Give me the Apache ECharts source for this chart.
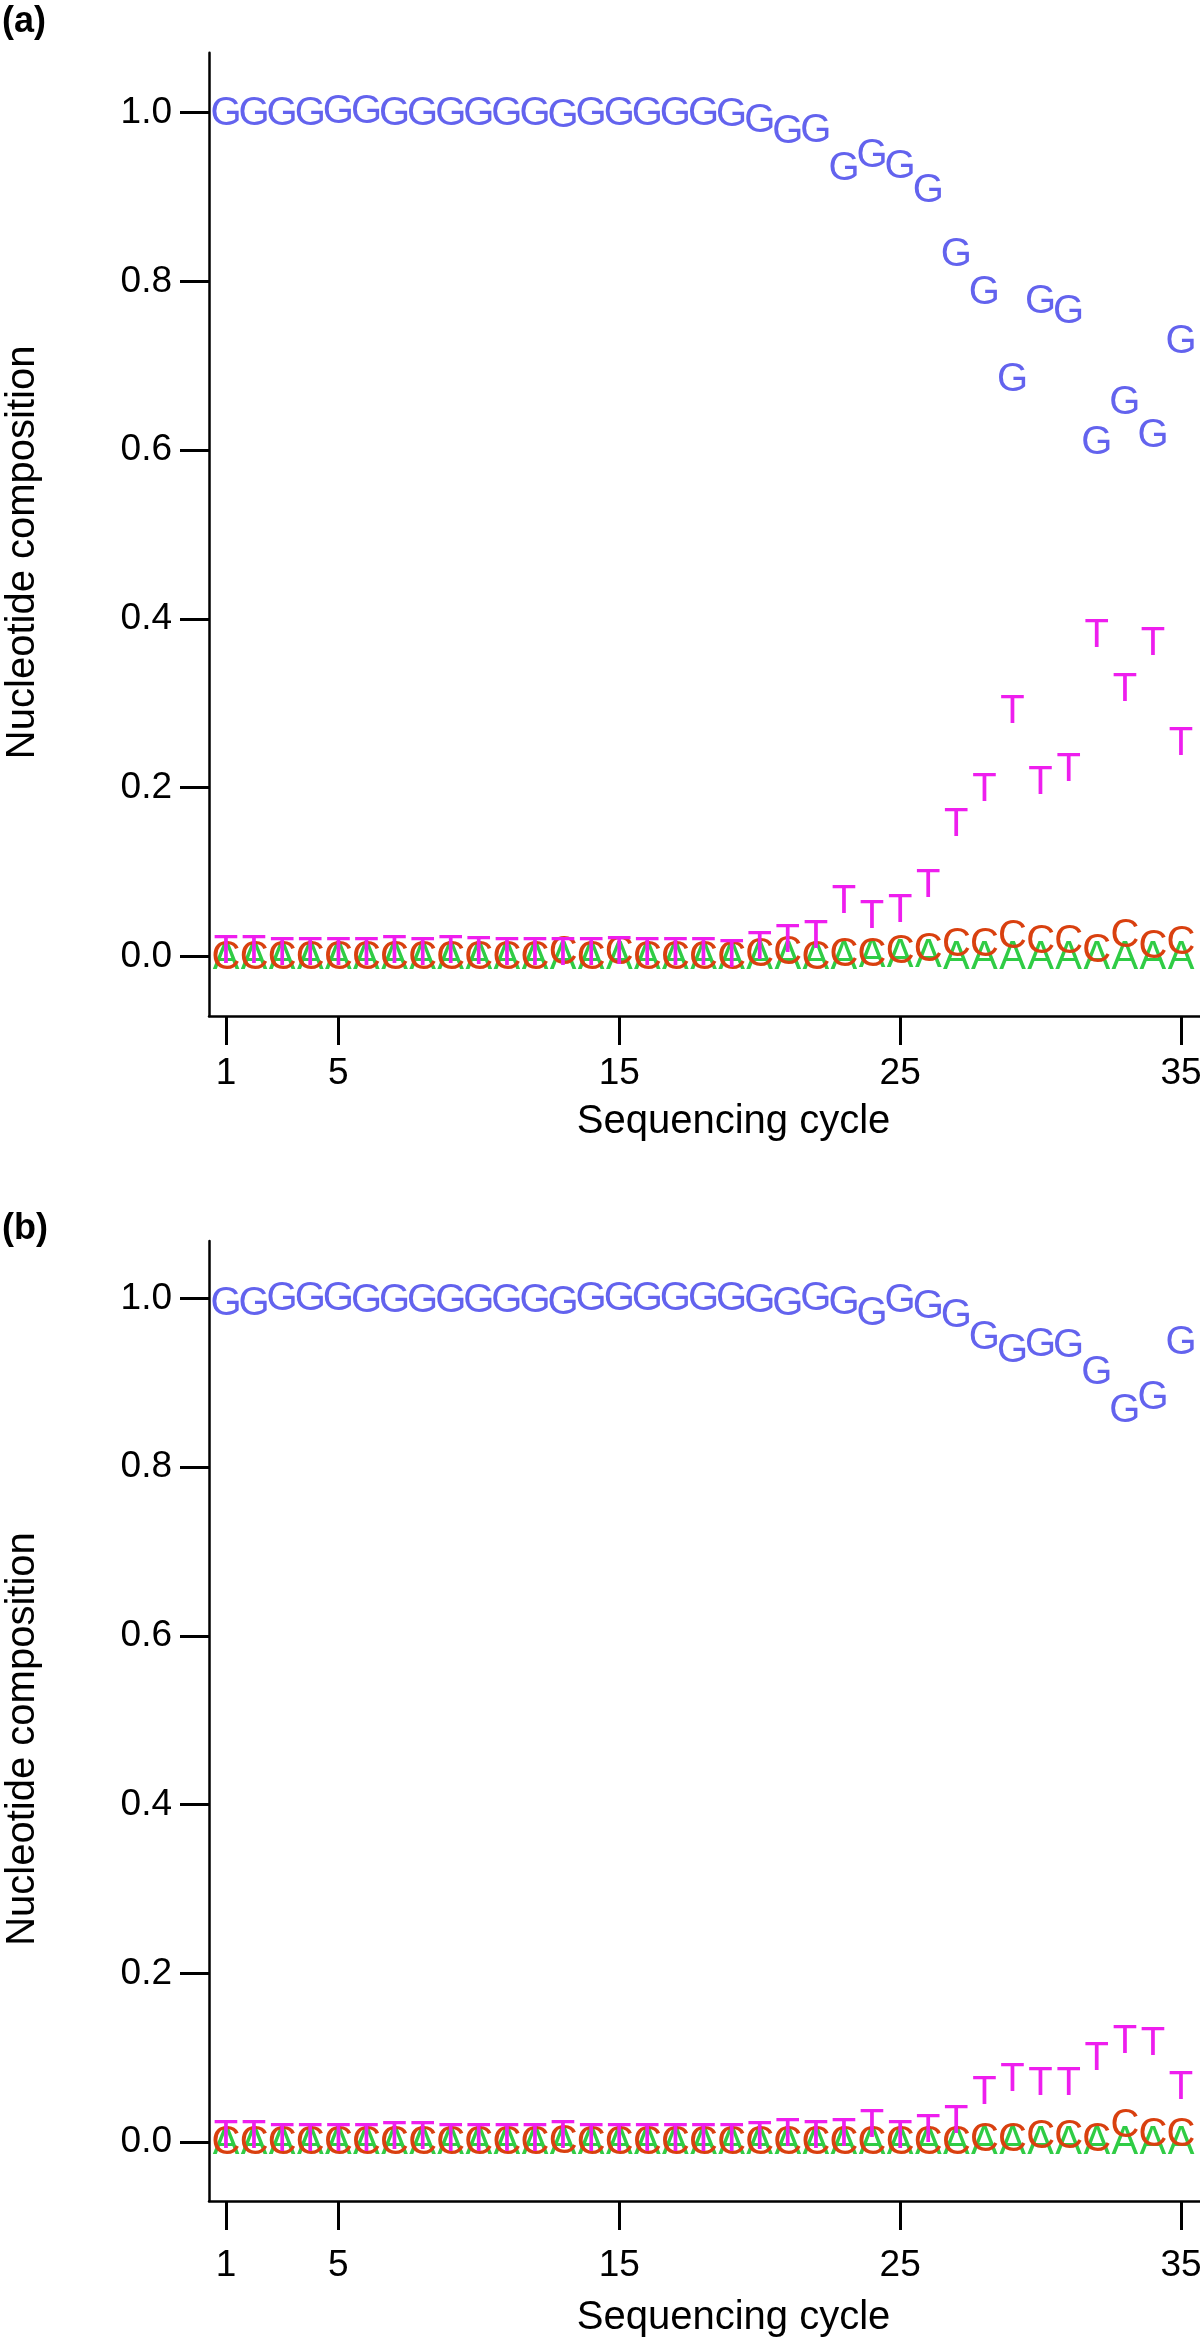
<!DOCTYPE html>
<html>
<head>
<meta charset="utf-8">
<script src="https://cdn.jsdelivr.net/npm/echarts@6/dist/echarts.min.js"></script>
<style>
html,body{margin:0;padding:0;background:#fff;}
#chart{width:1200px;height:2340px;}
</style>
</head>
<body>
<div id="chart"></div>
<script>
// ---- data ----
const cycles = [1,2,3,4,5,6,7,8,9,10,11,12,13,14,15,16,17,18,19,20,21,22,23,24,25,26,27,28,29,30,31,32,33,34,35];
const xTickValues = [1,5,15,25,35];
const yTickValues = [0,0.2,0.4,0.6,0.8,1.0];

// panel (a)
const G_a = [1.0,1.0,1.0,1.0,1.002,1.002,1.0,1.0,1.0,1.0,1.0,1.0,0.997,1.0,1.0,1.0,1.0,1.0,0.999,0.991,0.978,0.979,0.935,0.950,0.937,0.908,0.833,0.787,0.685,0.777,0.765,0.610,0.657,0.618,0.729];
const T_a = [0.006,0.006,0.004,0.004,0.004,0.004,0.006,0.004,0.006,0.005,0.004,0.004,0.004,0.004,0.005,0.004,0.004,0.004,0.002,0.011,0.020,0.024,0.066,0.048,0.055,0.085,0.157,0.199,0.291,0.207,0.222,0.381,0.317,0.371,0.253];
const C_a = [0,0,0,0,0,0,0,0,0,0,0,0,0.005,0,0.005,0,0,0,0,0.003,0.005,0,0.003,0.003,0.007,0.009,0.015,0.015,0.024,0.019,0.018,0.008,0.026,0.013,0.017];
const A_a = [0,0,0,0,0,0,0,0,0,0,0,0,0,0,0,0,0,0,0,0,0,0,0,0.002,0.002,0.002,0,0,0,0,0,0,0,0,0];

// panel (b)
const G_b = [0.995,0.995,1.0,1.0,1.0,0.998,0.998,0.998,0.998,0.998,0.998,0.998,0.996,1.0,1.0,1.0,1.0,1.0,1.0,0.998,0.994,1.0,0.996,0.983,0.998,0.991,0.980,0.954,0.939,0.946,0.945,0.913,0.868,0.883,0.948];
const T_b = [0.008,0.008,0.004,0.004,0.004,0.004,0.006,0.006,0.004,0.004,0.004,0.004,0.008,0.004,0.004,0.004,0.004,0.004,0.004,0.006,0.010,0.008,0.010,0.020,0.008,0.015,0.025,0.060,0.075,0.070,0.070,0.100,0.120,0.118,0.065];
const C_b = [0,0,0,0,0,0,0,0,0,0,0,0,0.002,0,0,0,0,0,0,0,0,0,0,0,0,0,0,0.004,0.004,0.008,0.008,0.004,0.020,0.010,0.010];
const A_b = [0,0,0,0,0,0,0,0,0,0,0,0,0,0,0,0,0,0,0,0,0,0,0,0,0,0,0,0,0,0,0,0,0,0,0];

const letters = {G:'#6363ee', A:'#2fcc45', C:'#d9400f', T:'#ee1eee'};
const FONT = '"Liberation Sans", Arial, Helvetica, sans-serif';

function pairs(vals){ return cycles.map((c,i)=>[c, vals[i]]); }

function letterSeries(letter, vals, idx){
  return {
    type:'custom',
    name: letter,
    xAxisIndex: idx, yAxisIndex: idx,
    clip:false,
    data: pairs(vals),
    renderItem: function(params, api){
      const p = api.coord([api.value(0), api.value(1)]);
      return {
        type:'text', x:p[0], y:p[1]+1,
        style:{text:letter, fill:letters[letter], font:'40px ' + FONT, align:'center', verticalAlign:'middle'}
      };
    }
  };
}

function makeX(idx, labelMargin, nameGap){
  return {
    gridIndex: idx, type:'value', min:0.395, max:35.675,
    name:'Sequencing cycle', nameLocation:'middle', nameGap:nameGap,
    nameTextStyle:{fontSize:40, color:'#000', fontFamily:FONT, padding:[0,0,0,58]},
    axisLine:{show:true, onZero:false, lineStyle:{color:'#000', width:2.5}},
    axisTick:{show:true, length:29, lineStyle:{color:'#000', width:3}, customValues:xTickValues},
    axisLabel:{show:true, customValues:xTickValues, fontSize:37, color:'#000', fontFamily:FONT, margin:labelMargin},
    splitLine:{show:false}
  };
}
function makeY(idx, min, max){
  return {
    gridIndex: idx, type:'value', min:min, max:max,
    name:'Nucleotide composition', nameLocation:'middle', nameGap:166, nameRotate:90,
    nameTextStyle:{fontSize:40, color:'#000', fontFamily:FONT, padding:[0,36,0,0]},
    axisLine:{show:true, onZero:false, lineStyle:{color:'#000', width:2.5}},
    axisTick:{show:true, length:29, lineStyle:{color:'#000', width:3}, customValues:yTickValues},
    axisLabel:{show:true, customValues:yTickValues, fontSize:37, color:'#000', fontFamily:FONT, margin:37,
      formatter:function(v){return Number(v).toFixed(1);}},
    splitLine:{show:false}
  };
}

const chart = echarts.init(document.getElementById('chart'), null, {renderer:'canvas'});
chart.setOption({
  backgroundColor:'#fff',
  animation:false,
  grid:[
    {left:209, top:52.7, width:991, height:963.3, containLabel:false, outerBoundsMode:'none'},
    {left:209, top:1241, width:991, height:960, containLabel:false, outerBoundsMode:'none'}
  ],
  xAxis:[ makeX(0, 39, 86), makeX(1, 46, 97) ],
  yAxis:[ makeY(0, -0.0705, 1.0711), makeY(1, -0.0696, 1.068) ],
  graphic:[
    {type:'text', left:2, top:4, style:{text:'(a)', font:'bold 36px ' + FONT, fill:'#000'}},
    {type:'text', left:2, top:1211, style:{text:'(b)', font:'bold 36px ' + FONT, fill:'#000'}}
  ],
  series:[
    letterSeries('G', G_a, 0), letterSeries('A', A_a, 0), letterSeries('C', C_a, 0), letterSeries('T', T_a, 0),
    letterSeries('G', G_b, 1), letterSeries('A', A_b, 1), letterSeries('C', C_b, 1), letterSeries('T', T_b, 1)
  ]
});
</script>
</body>
</html>
